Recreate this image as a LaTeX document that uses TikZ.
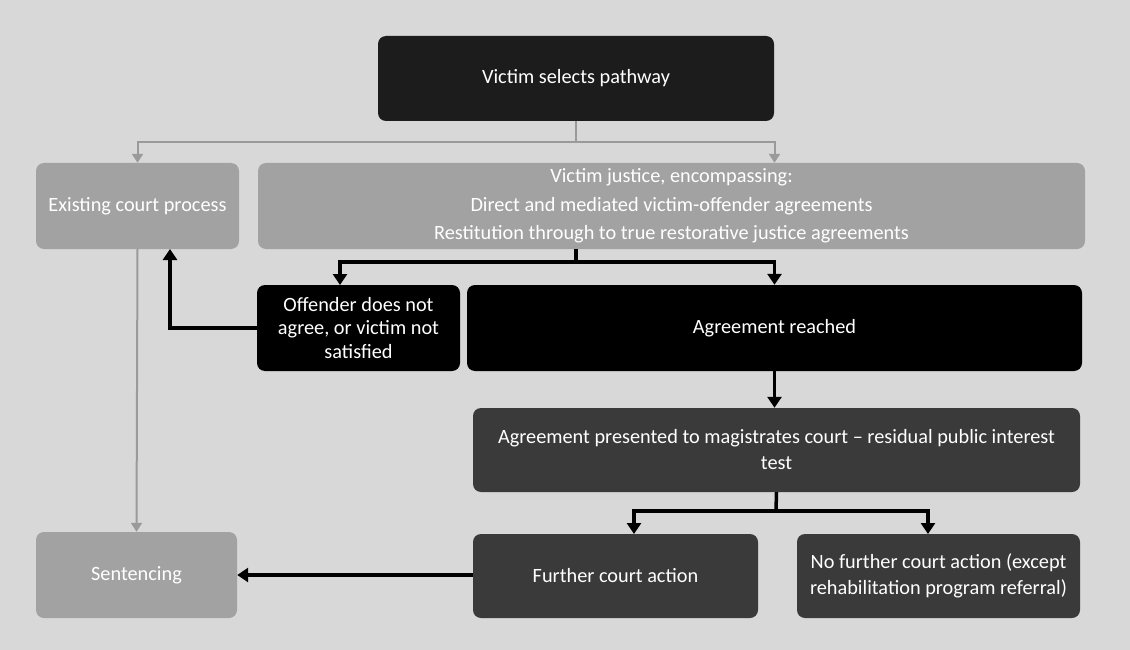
\documentclass[tikz,border=0pt]{standalone}
\usepackage{fontspec}
\setmainfont{Carlito}
\usetikzlibrary{arrows.meta}
\definecolor{bg}{HTML}{D8D8D8}
\definecolor{topfill}{HTML}{1C1C1C}
\definecolor{lightbox}{HTML}{A2A2A2}
\definecolor{darkbox}{HTML}{3A3A3A}
\definecolor{glines}{HTML}{9A9A9A}
\tikzset{
  box/.style={rounded corners=8pt, draw=none, text=white, align=center,
    font=\fontsize{20.3pt}{23.5pt}\selectfont, inner sep=0pt},
  topbox/.style={box, fill=topfill},
  lbox/.style={box, fill=lightbox},
  bbox/.style={box, fill=black},
  dbox/.style={box, fill=darkbox},
  gline/.style={draw=glines, line width=2pt},
  garrow/.style={gline, -{Triangle[length=9pt,width=11pt]}},
  bline/.style={draw=black, line width=3.5pt},
  barrow/.style={bline, -{Triangle[length=11pt,width=14pt]}}
}
\begin{document}
\begin{tikzpicture}[x=1pt,y=-1pt]
\fill[bg] (0,0) rectangle (1130,650);
\useasboundingbox (0,0) rectangle (1130,650);

\node[topbox, minimum width=396pt, minimum height=85pt] (top) at (576,78.5) {Victim selects pathway};
\node[lbox, minimum width=203pt, minimum height=86pt] (exist) at (137.5,206) {Existing court process};
\node[lbox, minimum width=827pt, minimum height=86pt, font=\fontsize{20.3pt}{28.5pt}\selectfont] (vj) at (671.5,206)
  {Victim justice, encompassing:\\Direct and mediated victim-offender agreements\\Restitution through to true restorative justice agreements};
\node[bbox, minimum width=203pt, minimum height=86pt] (off) at (358.5,328) {Offender does not\\agree, or victim not\\satisfied};
\node[bbox, minimum width=615pt, minimum height=86pt] (ar) at (774.5,328) {Agreement reached};
\node[dbox, minimum width=607pt, minimum height=84pt, font=\fontsize{20.3pt}{26pt}\selectfont] (ap) at (776.5,450)
  {Agreement presented to magistrates court -- residual public interest\\test};
\node[dbox, minimum width=285pt, minimum height=84pt] (fca) at (615.5,576) {Further court action};
\node[dbox, minimum width=283pt, minimum height=84pt, font=\fontsize{20.3pt}{26pt}\selectfont] (nfca) at (938.5,576)
  {No further court action (except\\rehabilitation program referral)};
\node[lbox, minimum width=201pt, minimum height=86pt] (sent) at (136.5,575) {Sentencing};

% gray connectors
\coordinate (g1) at (576,142);
\draw[gline] (top.south) -- (g1);
\draw[garrow] (g1) -| (exist.north);
\draw[garrow] (g1) -| (vj.north -| ar.north);
\draw[garrow] (exist.south) -- (sent.north);

% black connectors
\coordinate (b0) at (576,249);
\coordinate (b1) at (576,262);
\coordinate (offin) at (340,285);
\draw[bline] (b0) -- (b1);
\draw[barrow] (b1) -| (offin);
\draw[barrow] (b1) -| (ar.north);
\coordinate (ecin) at (170,249);
\draw[barrow] (off.west) -| (ecin);
\draw[barrow] (ar.south) -- (ap.north -| ar.south);
\coordinate (c1) at (776,511);
\coordinate (fcain) at (634,534);
\coordinate (nfcain) at (928,534);
\draw[bline] (ap.south) -- (c1);
\draw[barrow] (c1) -| (fcain);
\draw[barrow] (c1) -| (nfcain);
\draw[barrow] (fca.west |- 0,575) -- (sent.east |- 0,575);
\end{tikzpicture}
\end{document}
